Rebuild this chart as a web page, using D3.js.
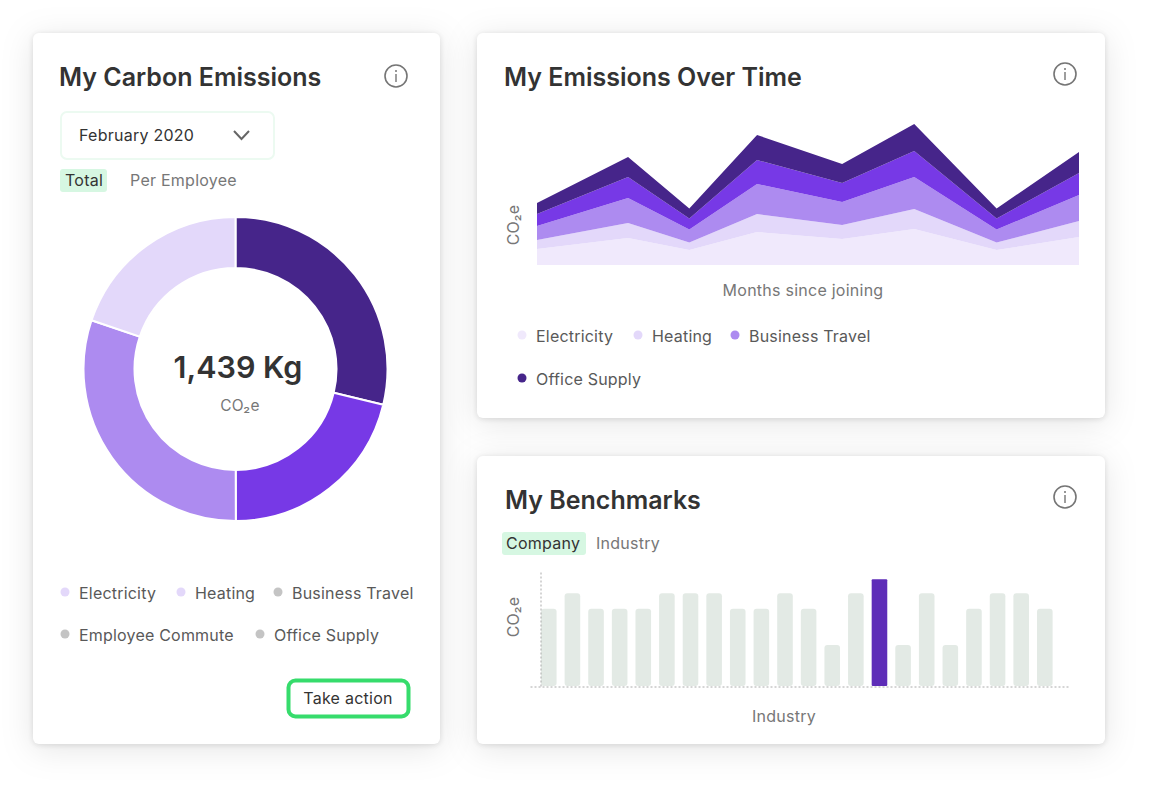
<!DOCTYPE html>
<html>
<head>
<meta charset="utf-8">
<script src="https://cdn.jsdelivr.net/npm/d3@7"></script>
<style>
  html, body { margin: 0; padding: 0; background: #fff; }
  svg { display: block; font-family: Inter, "Noto Sans", sans-serif; }
  .card { fill: #fff; filter: drop-shadow(0 1px 3px rgba(0,0,0,0.12)) drop-shadow(0 5px 16px rgba(0,0,0,0.10)); }
  .title { font-size: 25px; font-weight: 600; fill: #333; }
  .label { font-size: 16px; letter-spacing: 0.2px; fill: #595959; }
  .muted { font-size: 16px; letter-spacing: 0.25px; fill: #777; }
  .dark { font-size: 16px; letter-spacing: 0.25px; fill: #333; }
</style>
</head>
<body>
<div id="chart"></div>
<script>
// donut values
var donutNames = ["Office Supply", "Employee Commute", "Business Travel", "Heating"];
var donutValues = [414, 305, 435, 285];
var donutColors = ["#46258a", "#7739e6", "#ad8bf0", "#e3d8fa"];

// stacked area values
var months = [0, 1.68, 2.81, 4.06, 5.63, 6.96, 8.48, 10];
var electricity = [16, 27, 15, 33, 26, 36, 15, 28];
var heating = [9, 15, 7.5, 18, 14, 20, 7.5, 16];
var businessTravel = [14, 25, 13, 30, 23, 32, 13, 26];
var employeeCommute = [12, 21, 11, 24, 19, 26, 11, 22];
var officeSupply = [11, 20, 10, 25, 19, 27, 10, 21];
var areaKeys = ["electricity", "heating", "businessTravel", "employeeCommute", "officeSupply"];
var areaColors = ["#f0e9fc", "#e3d8fa", "#ad8bf0", "#7739e6", "#46258a"];

// benchmark bars
var benchmarkValues = [5, 6, 5, 5, 5, 6, 6, 6, 5, 5, 6, 5, 2.65, 6, 6.9, 2.65, 6, 2.65, 5, 6, 6, 5];
var highlightIndex = 14;

var width = 1153;
var height = 793;

var svg = d3
  .select("#chart")
  .append("svg")
  .attr("width", width)
  .attr("height", height);

// white cards
var cards = [[33, 33, 407, 711], [477, 33, 628, 385], [477, 456, 628, 288]];
svg.selectAll("rect.card")
  .data(cards)
  .enter()
  .append("rect")
  .attr("class", "card")
  .attr("x", function(d) { return d[0]; })
  .attr("y", function(d) { return d[1]; })
  .attr("width", function(d) { return d[2]; })
  .attr("height", function(d) { return d[3]; })
  .attr("rx", 6);

function addText(x, y, str, cls, anchor) {
  return svg.append("text")
    .attr("x", x)
    .attr("y", y)
    .attr("class", cls)
    .attr("text-anchor", anchor || "start")
    .text(str);
}

function infoIcon(cx, cy) {
  var g = svg.append("g").attr("transform", "translate(" + cx + "," + cy + ")");
  g.append("circle").attr("r", 11).attr("fill", "none").attr("stroke", "#757575").attr("stroke-width", 1.6);
  g.append("line").attr("x1", 0).attr("x2", 0).attr("y1", -2).attr("y2", 6).attr("stroke", "#757575").attr("stroke-width", 1.4);
  g.append("circle").attr("cy", -5).attr("r", 1).attr("fill", "#757575");
}

function legendItem(cx, cy, color, str) {
  svg.append("circle").attr("cx", cx).attr("cy", cy - 1).attr("r", 4.5).attr("fill", color);
  addText(cx + 14, cy + 5.5, str, "label");
}

// Left card
//============
addText(59, 86, "My Carbon Emissions", "title");
infoIcon(396, 76);

svg.append("rect")
  .attr("x", 61).attr("y", 112).attr("width", 213).attr("height", 47).attr("rx", 6)
  .attr("fill", "#fff").attr("stroke", "#ecfaf1").attr("stroke-width", 2);
addText(79, 141, "February 2020", "dark");
svg.append("path")
  .attr("d", "M234,131L241.500,139L249,131")
  .attr("fill", "none").attr("stroke", "#666").attr("stroke-width", 2);

svg.append("rect")
  .attr("x", 60).attr("y", 169).attr("width", 47).attr("height", 23).attr("rx", 3).attr("fill", "#d6f7e2");
addText(65, 186, "Total", "dark");
addText(130, 186, "Per Employee", "muted");

// donut
var pie = d3.pie().sort(null);
var arc = d3.arc().innerRadius(101).outerRadius(152);
var donut = svg.append("g").attr("transform", "translate(235.500,369)");
donut.selectAll("path")
  .data(pie(donutValues))
  .enter()
  .append("path")
  .attr("d", arc)
  .attr("fill", function(d, i) { return donutColors[i]; })
  .attr("stroke", "#fff")
  .attr("stroke-width", 2);

addText(238, 378, d3.format(",")(d3.sum(donutValues)) + " Kg", "title", "middle")
  .style("font-size", "30.5px");
addText(240, 411, "CO\u2082e", "muted", "middle").style("font-size", "15.5px");

legendItem(65, 593, "#e3d8fa", "Electricity");
legendItem(181, 593, "#e3d8fa", "Heating");
legendItem(278, 593, "#c4c4c4", "Business Travel");
legendItem(65, 635, "#c4c4c4", "Employee Commute");
legendItem(260, 635, "#c4c4c4", "Office Supply");

svg.append("rect")
  .attr("x", 288.500).attr("y", 680.500).attr("width", 120).attr("height", 36).attr("rx", 7)
  .attr("fill", "#fff").attr("stroke", "#36dc6c").attr("stroke-width", 4);
addText(348, 704, "Take action", "dark", "middle");

// Emissions over time
//=====================
addText(504, 86, "My Emissions Over Time", "title");
infoIcon(1065, 74);

var areaData = months.map(function(m, i) {
  return {
    month: m,
    electricity: electricity[i],
    heating: heating[i],
    businessTravel: businessTravel[i],
    employeeCommute: employeeCommute[i],
    officeSupply: officeSupply[i]
  };
});

var xArea = d3.scaleLinear().domain([0, 10]).range([537, 1079]);
var yArea = d3.scaleLinear().domain([0, 141]).range([265, 124]);

var stack = d3.stack().keys(areaKeys);
var area = d3.area()
  .x(function(d) { return xArea(d.data.month); })
  .y0(function(d) { return yArea(d[0]); })
  .y1(function(d) { return yArea(d[1]); });

svg.selectAll("path.layer")
  .data(stack(areaData))
  .enter()
  .append("path")
  .attr("class", "layer")
  .attr("d", area)
  .attr("fill", function(d, i) { return areaColors[i]; });

addText(803, 296, "Months since joining", "muted", "middle");
addText(519, 225, "CO\u2082e", "muted", "middle")
  .attr("transform", "rotate(-90 519 225)");

legendItem(522, 336, "#f0e9fc", "Electricity");
legendItem(638, 336, "#e3d8fa", "Heating");
legendItem(735, 336, "#ad8bf0", "Business Travel");
legendItem(522, 379, "#46258a", "Office Supply");

// Benchmarks
//============
addText(505, 509, "My Benchmarks", "title");
infoIcon(1065, 497);

svg.append("rect")
  .attr("x", 502).attr("y", 532).attr("width", 84).attr("height", 23).attr("rx", 3).attr("fill", "#d6f7e2");
addText(506, 549, "Company", "dark");
addText(596, 549, "Industry", "muted");

var xBar = d3.scaleBand()
  .domain(d3.range(benchmarkValues.length))
  .range([541, 1052.600])
  .paddingInner(0.34);
var yBar = d3.scaleLinear().domain([0, 7.5]).range([686, 570]);

svg.selectAll("rect.bar")
  .data(benchmarkValues)
  .enter()
  .append("rect")
  .attr("class", "bar")
  .attr("x", function(d, i) { return xBar(i); })
  .attr("y", function(d) { return yBar(d); })
  .attr("width", xBar.bandwidth())
  .attr("height", function(d) { return yBar(0) - yBar(d); })
  .attr("rx", function(d, i) { return i === highlightIndex ? 1 : 3; })
  .attr("fill", function(d, i) { return i === highlightIndex ? "#5e2db8" : "#e3eae5"; });

// dotted axis lines, no ticks
var xAxisBar = d3.axisBottom(d3.scaleLinear().range([530, 1069])).ticks(0).tickSizeOuter(0);
var yAxisBar = d3.axisLeft(yBar).ticks(0).tickSizeOuter(0);
svg.append("g").attr("transform", "translate(0,686.500)").call(xAxisBar)
  .select(".domain").attr("stroke", "#aaa").attr("stroke-dasharray", "2,2");
svg.append("g").attr("transform", "translate(540.500,0)").call(yAxisBar)
  .select(".domain").attr("stroke", "#aaa").attr("stroke-dasharray", "2,2");

addText(784, 722, "Industry", "muted", "middle");
addText(519, 617, "CO\u2082e", "muted", "middle")
  .attr("transform", "rotate(-90 519 617)");
</script>
</body>
</html>
